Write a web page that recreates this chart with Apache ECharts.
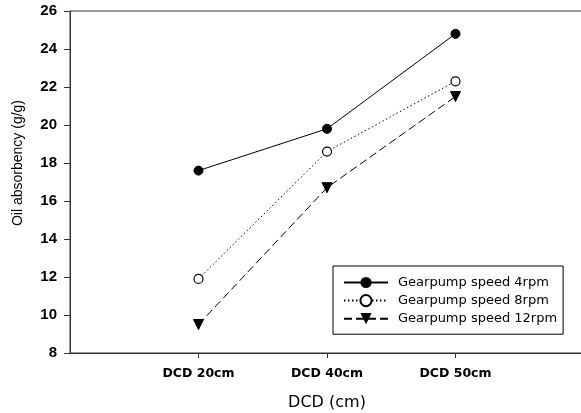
<!DOCTYPE html>
<html>
<head>
<meta charset="utf-8">
<script src="https://cdn.jsdelivr.net/npm/echarts@6/dist/echarts.min.js"></script>
<style>
  html, body { margin: 0; padding: 0; background: #fff; }
  #chart { width: 581px; height: 413px; }
</style>
</head>
<body>
<div id="chart"></div>
<script>
// Oil absorbency vs. DCD for three gear-pump speeds
const categories = ['DCD 20cm', 'DCD 40cm', 'DCD 50cm'];
const categoryPos = [1, 2, 3];
const speed4rpm = [17.6, 19.8, 24.8];
const speed8rpm = [11.9, 18.6, 22.3];
const speed12rpm = [9.5, 16.7, 21.5];
const yTicks = { min: 8, max: 26, step: 2 };

const pairs = vals => vals.map((v, i) => [categoryPos[i], v]);

const axisColor = '#333';
const arial = "Arial, 'Liberation Sans', sans-serif";
const chart = echarts.init(document.getElementById('chart'));

chart.setOption({
  animation: false,
  backgroundColor: '#fff',
  grid: {
    left: 70, top: 11, bottom: 60, right: -3,
    outerBoundsMode: 'none',
    containLabel: false,
    show: true, borderColor: axisColor, borderWidth: 1
  },
  xAxis: {
    type: 'value',
    min: 0, max: 4, interval: 1,
    splitLine: { show: false },
    axisLine: { show: true, lineStyle: { color: axisColor, width: 1 } },
    axisTick: { show: true, length: 5, customValues: categoryPos, lineStyle: { color: axisColor } },
    axisLabel: {
      customValues: categoryPos,
      formatter: v => categories[categoryPos.indexOf(v)] || '',
      color: '#000', fontFamily: 'DejaVu Sans', fontWeight: 'bold', fontSize: 12.5, margin: 14
    },
    name: 'DCD (cm)',
    nameLocation: 'middle',
    nameGap: 42,
    nameTextStyle: { color: '#000', fontFamily: 'DejaVu Sans', fontSize: 16 }
  },
  yAxis: {
    type: 'value',
    min: yTicks.min, max: yTicks.max, interval: yTicks.step,
    splitLine: { show: false },
    axisLine: { show: true, lineStyle: { color: axisColor, width: 1 } },
    axisTick: { show: true, length: 6, lineStyle: { color: axisColor } },
    axisLabel: {
      color: '#000', fontFamily: arial, fontWeight: 'bold', fontSize: 15, margin: 13
    }
  },
  graphic: [{
    type: 'text',
    x: 18, y: 163,
    rotation: Math.PI / 2,
    style: {
      text: 'Oil absorbency (g/g)',
      fill: '#000',
      font: '14px Arial, "Liberation Sans", sans-serif',
      align: 'center',
      verticalAlign: 'middle'
    }
  }],
  legend: {
    orient: 'vertical',
    left: 333, top: 266,
    padding: [10, 6, 9, 10],
    itemWidth: 44, itemHeight: 14, itemGap: 5,
    borderColor: '#000', borderWidth: 1,
    backgroundColor: '#fff',
    textStyle: { color: '#000', fontFamily: 'DejaVu Sans', fontSize: 13, padding: [0, 0, 0, 5] },
    data: ['Gearpump speed 4rpm', 'Gearpump speed 8rpm', 'Gearpump speed 12rpm']
  },
  series: [
    {
      name: 'Gearpump speed 4rpm',
      type: 'line',
      data: pairs(speed4rpm),
      symbol: 'circle', symbolSize: 9,
      itemStyle: { color: '#000', borderColor: '#000' },
      lineStyle: { color: '#000', width: 1, type: 'solid' },
      z: 3
    },
    {
      name: 'Gearpump speed 8rpm',
      type: 'line',
      data: pairs(speed8rpm),
      symbol: 'circle', symbolSize: 9,
      itemStyle: { color: '#fff', borderColor: '#000', borderWidth: 1.2 },
      lineStyle: { color: '#000', width: 1, type: [1.5, 2.5] },
      z: 3
    },
    {
      name: 'Gearpump speed 12rpm',
      type: 'line',
      data: pairs(speed12rpm),
      symbol: 'triangle', symbolSize: 10, symbolRotate: 180,
      itemStyle: { color: '#000', borderColor: '#000' },
      lineStyle: { color: '#000', width: 1, type: [8, 4] },
      z: 3
    }
  ]
});
</script>
</body>
</html>
